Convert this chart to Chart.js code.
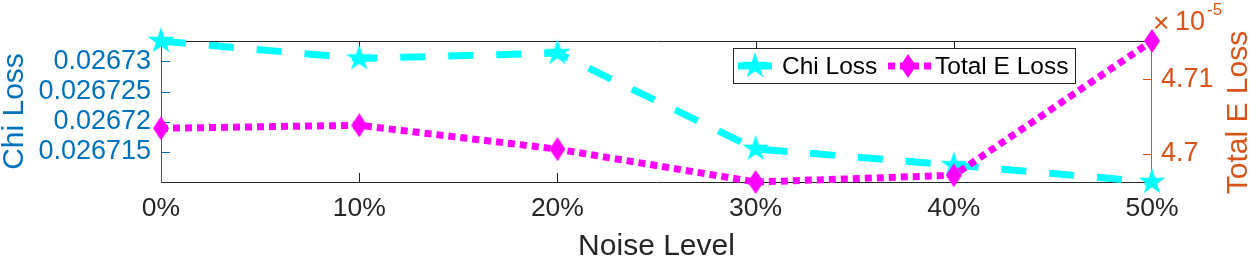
<!DOCTYPE html>
<html><head><meta charset="utf-8">
<script src="https://cdn.jsdelivr.net/npm/chart.js@4/dist/chart.umd.min.js"></script>
<style>html,body{margin:0;padding:0;background:#fff;overflow:hidden}#wrap{width:1254px;height:261px}</style>
</head><body><div id="wrap"><canvas id="c" width="1254" height="261"></canvas></div>
<script>
// ---- data ----
const categories = ['0%', '10%', '20%', '30%', '40%', '50%'];
const chiLoss = [0.0267334, 0.0267305, 0.0267314, 0.0267155, 0.0267128, 0.0267100];
const totalELoss = [4.7034, 4.7038, 4.7006, 4.6962, 4.6971, 4.7151]; // in units of 1e-5
const chiTicks = [0.026715, 0.02672, 0.026725, 0.02673];
const chiTickLabels = ['0.026715', '0.02672', '0.026725', '0.02673'];
const eTicks = [4.70, 4.71];
const eTickLabels = ['4.7', '4.71'];
const eExponent = '-5';
const seriesNames = ['Chi Loss', 'Total E Loss'];
const xTitle = 'Noise Level';

// ---- styles ----
const FONT = '"Liberation Sans", Arial, Helvetica, sans-serif';
const BLUE = '#0072BD', ORANGE = '#D95319', DARK = '#262626';
const CYAN = '#00FFFF', MAGENTA = '#FF00FF';

function makeStar(R, color) {
  const s = Math.ceil(R * 2 + 2), c = document.createElement('canvas');
  c.width = s; c.height = s;
  const g = c.getContext('2d'), cx = s / 2, cy = s / 2, r = R * 0.382;
  g.beginPath();
  for (let i = 0; i < 10; i++) {
    const a = -Math.PI / 2 + i * Math.PI / 5, rr = i % 2 ? r : R;
    g.lineTo(cx + rr * Math.cos(a), cy + rr * Math.sin(a));
  }
  g.closePath(); g.fillStyle = color; g.fill();
  return c;
}
function makeDiamond(w, h, color) {
  const c = document.createElement('canvas');
  c.width = w; c.height = h;
  const g = c.getContext('2d');
  g.beginPath(); g.moveTo(w / 2, 0); g.lineTo(w, h / 2); g.lineTo(w / 2, h); g.lineTo(0, h / 2); g.closePath();
  g.fillStyle = color; g.fill();
  return c;
}
const starImg = makeStar(14, CYAN);
const diamondImg = makeDiamond(16, 24, MAGENTA);

const framePlugin = {
  id: 'frame',
  beforeDatasetsDraw(chart) {
    const {ctx, chartArea: a} = chart;
    const xs = chart.scales.x, yl = chart.scales.y, yr = chart.scales.y1;
    ctx.save();
    ctx.lineWidth = 1;
    ctx.strokeStyle = DARK;
    ctx.beginPath();
    ctx.moveTo(a.left, a.top + 0.5); ctx.lineTo(a.right, a.top + 0.5);
    ctx.moveTo(a.left, a.bottom + 0.5); ctx.lineTo(a.right, a.bottom + 0.5);
    categories.forEach((c, i) => {
      const x = Math.round(xs.getPixelForValue(i)) + 0.5;
      ctx.moveTo(x, a.bottom); ctx.lineTo(x, a.bottom - 9);
      ctx.moveTo(x, a.top); ctx.lineTo(x, a.top + 9);
    });
    ctx.stroke();
    ctx.strokeStyle = BLUE;
    ctx.beginPath();
    ctx.moveTo(a.left + 0.5, a.top); ctx.lineTo(a.left + 0.5, a.bottom + 1);
    chiTicks.forEach(v => { const y = Math.round(yl.getPixelForValue(v)) + 0.5; ctx.moveTo(a.left, y); ctx.lineTo(a.left + 9, y); });
    ctx.stroke();
    ctx.strokeStyle = ORANGE;
    ctx.beginPath();
    ctx.moveTo(a.right - 0.5, a.top); ctx.lineTo(a.right - 0.5, a.bottom + 1);
    eTicks.forEach(v => { const y = Math.round(yr.getPixelForValue(v)) + 0.5; ctx.moveTo(a.right, y); ctx.lineTo(a.right - 9, y); });
    ctx.stroke();
    ctx.restore();
  },
  afterDraw(chart) {
    const {ctx, chartArea: a} = chart;
    ctx.save();
    // right axis title
    ctx.fillStyle = ORANGE;
    ctx.font = '30px ' + FONT;
    ctx.textAlign = 'center'; ctx.textBaseline = 'middle';
    ctx.translate(1239, (a.top + a.bottom) / 2 + 1);
    ctx.rotate(-Math.PI / 2);
    ctx.fillText('Total E Loss', 0, 0);
    ctx.restore();
    ctx.save();
    // exponent
    ctx.fillStyle = ORANGE;
    ctx.textAlign = 'left'; ctx.textBaseline = 'alphabetic';
    ctx.font = '28px ' + FONT;
    ctx.fillText('\u00D7', 1153, 32);
    ctx.font = '27px ' + FONT;
    ctx.fillText('10', 1175, 30);
    ctx.font = '17px ' + FONT;
    ctx.fillText(eExponent, 1207, 15);
    // legend
    const L = 733.5, T = 48.5, W = 342, H = 35, cy = T + H / 2;
    ctx.fillStyle = '#fff'; ctx.fillRect(L, T, W, H);
    ctx.strokeStyle = DARK; ctx.lineWidth = 1; ctx.strokeRect(L, T, W, H);
    ctx.lineWidth = 7; ctx.strokeStyle = CYAN;
    ctx.beginPath(); ctx.moveTo(738, cy); ctx.lineTo(772, cy); ctx.stroke();
    ctx.drawImage(starImg, 755 - starImg.width / 2, cy - starImg.height / 2);
    ctx.strokeStyle = MAGENTA; ctx.lineWidth = 7; ctx.setLineDash([7, 5]);
    ctx.beginPath(); ctx.moveTo(888, cy); ctx.lineTo(931, cy); ctx.stroke();
    ctx.setLineDash([]);
    ctx.drawImage(diamondImg, 908 - diamondImg.width / 2, cy - diamondImg.height / 2);
    ctx.fillStyle = '#000'; ctx.font = '24.5px ' + FONT; ctx.textBaseline = 'middle';
    ctx.fillText(seriesNames[0], 782, cy + 1);
    ctx.fillText(seriesNames[1], 935, cy + 1);
    ctx.restore();
  }
};

new Chart(document.getElementById('c'), {
  type: 'line',
  data: {
    labels: categories,
    datasets: [
      {label: seriesNames[0], data: chiLoss, yAxisID: 'y', borderColor: CYAN, backgroundColor: CYAN,
       borderWidth: 7, borderDash: [25, 23], pointStyle: starImg, pointRadius: 14, tension: 0, clip: false, order: 2, fill: false},
      {label: seriesNames[1], data: totalELoss, yAxisID: 'y1', borderColor: MAGENTA, backgroundColor: MAGENTA,
       borderWidth: 7, borderDash: [7, 5], pointStyle: diamondImg, pointRadius: 12, tension: 0, clip: false, order: 1, fill: false}
    ]
  },
  options: {
    responsive: false, animation: false, devicePixelRatio: 1,
    layout: {padding: {top: 41, left: 0, right: 0, bottom: 0}},
    plugins: {legend: {display: false}, tooltip: {enabled: false}},
    events: [],
    scales: {
      x: {
        type: 'category', offset: false,
        grid: {display: false, drawTicks: false}, border: {display: false},
        ticks: {color: DARK, font: {family: FONT, size: 26.5}, padding: 11, maxRotation: 0, autoSkip: false},
        title: {display: true, text: xTitle, color: DARK, font: {family: FONT, size: 30}, padding: {top: 0, bottom: -4}},
        afterFit(s) { s.height = 79; }
      },
      y: {
        position: 'left', min: Math.min(...chiLoss), max: Math.max(...chiLoss),
        grid: {display: false, drawTicks: false}, border: {display: false},
        afterBuildTicks(s) { s.ticks = chiTicks.map(v => ({value: v})); },
        ticks: {color: BLUE, font: {family: FONT, size: 27}, padding: 10, callback: (v, i) => chiTickLabels[i]},
        title: {display: true, text: seriesNames[0], color: BLUE, font: {family: FONT, size: 30}, padding: {top: -3.5, bottom: 0}},
        afterFit(s) { s.width = 161; }
      },
      y1: {
        position: 'right', min: Math.min(...totalELoss), max: Math.max(...totalELoss),
        grid: {display: false, drawTicks: false}, border: {display: false},
        afterBuildTicks(s) { s.ticks = eTicks.map(v => ({value: v})); },
        ticks: {color: ORANGE, font: {family: FONT, size: 27}, padding: 9, callback: (v, i) => eTickLabels[i]},
        afterFit(s) { s.width = 102; }
      }
    }
  },
  plugins: [framePlugin]
});
</script></body></html>
